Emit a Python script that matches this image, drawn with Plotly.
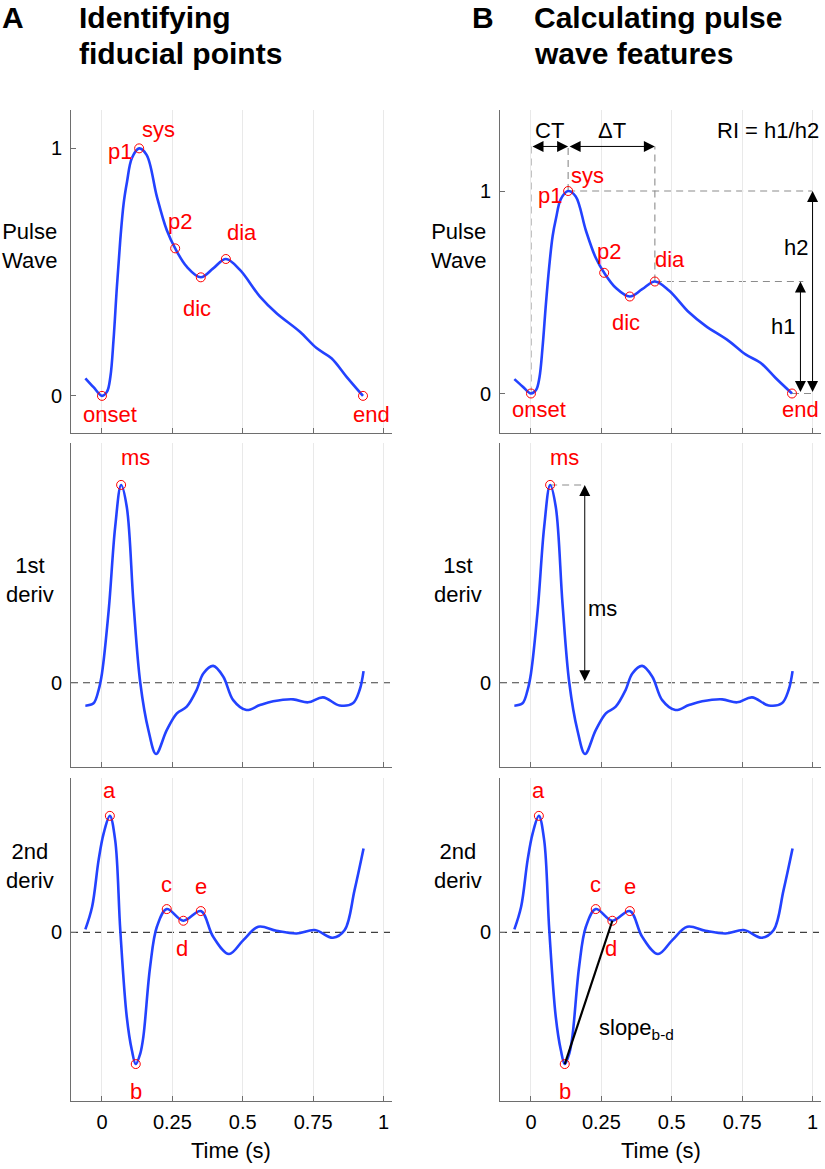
import plotly.graph_objects as go

# ---------------- data ----------------
# Pulse wave (normalised amplitude) vs time (s)
t_pw = [-0.059, -0.030, 0.000, 0.018, 0.030, 0.041, 0.053, 0.065, 0.077, 0.089, 0.106,
        0.132, 0.159, 0.195, 0.230, 0.260, 0.301, 0.351, 0.395, 0.440, 0.490, 0.561,
        0.620, 0.702, 0.762, 0.815, 0.868, 0.927]
v_pw = [0.071, 0.035, 0.000, 0.017, 0.078, 0.226, 0.441, 0.630, 0.778, 0.865, 0.960,
        1.000, 0.973, 0.805, 0.670, 0.596, 0.522, 0.479, 0.515, 0.553, 0.509, 0.401,
        0.334, 0.260, 0.193, 0.152, 0.078, 0.000]

# 1st derivative (normalised so that ms = 1)
t_d1 = [-0.059, -0.030, -0.012, 0.000, 0.024, 0.047, 0.068, 0.088, 0.112, 0.136, 0.165,
        0.192, 0.230, 0.266, 0.301, 0.336, 0.360, 0.395, 0.431, 0.466, 0.513, 0.561,
        0.608, 0.679, 0.732, 0.785, 0.844, 0.891, 0.915, 0.929]
v_d1 = [-0.116, -0.104, -0.037, 0.047, 0.368, 0.789, 1.000, 0.890, 0.400, 0.000, -0.240,
        -0.360, -0.240, -0.155, -0.121, -0.037, 0.047, 0.085, 0.030, -0.088, -0.138, -0.113,
        -0.094, -0.084, -0.099, -0.074, -0.115, -0.104, -0.037, 0.059]

# 2nd derivative (normalised so that a = 1)
t_d2 = [-0.059, -0.035, -0.012, 0.006, 0.028, 0.047, 0.065, 0.088, 0.106, 0.120, 0.136,
        0.147, 0.171, 0.195, 0.230, 0.289, 0.351, 0.395, 0.451, 0.502, 0.555, 0.620,
        0.691, 0.756, 0.820, 0.862, 0.897, 0.929]
v_d2 = [0.026, 0.220, 0.620, 0.850, 1.000, 0.790, 0.020, -0.724, -1.010, -1.130, -1.040,
        -0.895, -0.295, 0.048, 0.200, 0.100, 0.183, -0.038, -0.186, -0.066, 0.048, 0.014,
        -0.009, 0.020, -0.046, 0.020, 0.363, 0.720]

# fiducial point times
pw_fid_t = {"onset": 0.000, "sys": 0.132, "p2": 0.260, "dic": 0.351, "dia": 0.440, "end": 0.927}
d1_fid_t = {"ms": 0.068}
d2_fid_t = {"a": 0.028, "b": 0.120, "c": 0.230, "d": 0.289, "e": 0.351}

x_ticks = [0, 0.25, 0.5, 0.75, 1]
x_tick_labels = ["0", "0.25", "0.5", "0.75", "1"]

# ---------------- styling ----------------
W, H = 825, 1169
FONT = "Liberation Sans, Arial, Helvetica, sans-serif"
BLUE = "#2342ff"
RED = "#ff0000"
AXC = "#6e6e6e"
GRID = "#e9e9e9"

def px_x(p):
    return p / W

def px_y(p):
    return 1 - p / H

XA = [px_x(71), px_x(392)]
XB = [px_x(500), px_x(821)]
Y_ROWS = [[px_y(433), px_y(110)], [px_y(767), px_y(443)], [px_y(1101), px_y(778)]]
X_RANGE = [-0.11, 1.03]
Y_RANGES_A = [[-0.15, 1.155], [-0.426, 1.212], [-1.447, 1.325]]
Y_RANGES_B = [[-0.195, 1.40], [-0.426, 1.212], [-1.447, 1.325]]

series = [(t_pw, v_pw), (t_d1, v_d1), (t_d2, v_d2)]
fids = [pw_fid_t, d1_fid_t, d2_fid_t]

# label text and pixel offsets (dx, dy) per panel
labels_top_A = [("onset", "onset", 8, -19), ("sys", "sys", 19, 19), ("sys", "p1", -19, -3),
                ("p2", "p2", 5, 27), ("dic", "dic", -4, -31), ("dia", "dia", 16, 27),
                ("end", "end", 8, -19)]
labels_top_B = [("onset", "onset", 8, -16), ("sys", "sys", 19, 16), ("sys", "p1", -18, -4),
                ("p2", "p2", 5, 21), ("dic", "dic", -4, -26), ("dia", "dia", 15, 22),
                ("end", "end", 8, -16)]
labels_mid = [("ms", "ms", 14, 27)]
labels_bot = [("a", "a", 0, 25), ("b", "b", 0, -27), ("c", "c", 0, 25),
              ("d", "d", -1, -28), ("e", "e", 0, 25)]

fig = go.Figure()
annotations = []
shapes = []

def lookup(ts, vs, t):
    return dict(zip(ts, vs))[t]

for col in range(2):
    for row in range(3):
        n = col * 3 + row + 1
        xs, ys = series[row]
        fig.add_trace(go.Scatter(x=xs, y=ys, mode="lines",
                                 line=dict(color=BLUE, width=2.6, shape="spline", smoothing=1.0),
                                 xaxis=f"x{n}", yaxis=f"y{n}", showlegend=False, hoverinfo="skip"))
        ft = list(fids[row].values())
        fv = [lookup(xs, ys, t) for t in ft]
        fig.add_trace(go.Scatter(x=ft, y=fv, mode="markers",
                                 marker=dict(symbol="circle-open", size=9, color=RED,
                                             line=dict(width=1, color=RED)),
                                 xaxis=f"x{n}", yaxis=f"y{n}", showlegend=False, hoverinfo="skip"))
        if row == 0:
            labs = labels_top_A if col == 0 else labels_top_B
        elif row == 1:
            labs = labels_mid
        else:
            labs = labels_bot
        for key, txt, dx, dy in labs:
            t = fids[row][key]
            annotations.append(dict(xref=f"x{n}", yref=f"y{n}", x=t, y=lookup(xs, ys, t),
                                    text=txt, showarrow=False, xshift=dx, yshift=dy,
                                    font=dict(family=FONT, size=22, color=RED)))
        if row > 0:
            shapes.append(dict(type="line", xref=f"x{n} domain", yref=f"y{n}", x0=0, x1=1,
                               y0=0, y1=0, line=dict(color="#404040", width=1.2, dash="7px,5px"),
                               layer="below"))

        xd = XA if col == 0 else XB
        yr = (Y_RANGES_A if col == 0 else Y_RANGES_B)[row]
        fig.update_layout(**{
            f"xaxis{n}": dict(domain=xd, anchor=f"y{n}", range=X_RANGE, tickvals=x_ticks,
                              ticktext=x_tick_labels, showticklabels=(row == 2),
                              showgrid=True, gridcolor=GRID, gridwidth=1, showline=True,
                              linecolor=AXC, linewidth=1, ticks="inside", ticklen=5,
                              tickcolor=AXC, zeroline=False, ticklabelstandoff=3,
                              tickfont=dict(family=FONT, size=20, color="#000")),
            f"yaxis{n}": dict(domain=Y_ROWS[row], anchor=f"x{n}", range=yr,
                              tickvals=[0, 1] if row == 0 else [0],
                              ticktext=["0", "1"] if row == 0 else ["0"],
                              showgrid=False, showline=True, linecolor=AXC, linewidth=1,
                              ticks="inside", ticklen=5, tickcolor=AXC, zeroline=False,
                              ticklabelstandoff=4,
                              tickfont=dict(family=FONT, size=20, color="#000")),
        })

# ---------------- panel B measurement annotations ----------------
DASH = dict(color="#8c8c8c", width=1.1, dash="7px,5px")
ARROW_LEVEL = 1.22
t_on, t_sys, t_dia, t_end = pw_fid_t["onset"], pw_fid_t["sys"], pw_fid_t["dia"], pw_fid_t["end"]
v_sys = lookup(t_pw, v_pw, t_sys)
v_dia = lookup(t_pw, v_pw, t_dia)
v_on = lookup(t_pw, v_pw, t_on)
H1_X, H2_X = 0.957, 1.0

for t0, v0 in [(t_on, v_on), (t_sys, v_sys), (t_dia, v_dia)]:
    shapes.append(dict(type="line", xref="x4", yref="y4", x0=t0, x1=t0, y0=v0, y1=ARROW_LEVEL,
                       line=DASH, layer="below"))
shapes.append(dict(type="line", xref="x4", yref="y4", x0=t_sys, x1=H2_X, y0=v_sys, y1=v_sys,
                   line=DASH, layer="below"))
shapes.append(dict(type="line", xref="x4", yref="y4", x0=t_dia, x1=H1_X + 0.01, y0=v_dia, y1=v_dia,
                   line=DASH, layer="below"))
shapes.append(dict(type="line", xref="x4", yref="y4", x0=t_end, x1=H2_X, y0=0, y1=0,
                   line=DASH, layer="below"))

def darrow(xref, yref, x0, y0, x1, y1):
    return dict(xref=xref, yref=yref, axref=xref, ayref=yref, x=x1, y=y1, ax=x0, ay=y0,
                text="", showarrow=True, arrowside="end+start", arrowhead=2, startarrowhead=2,
                arrowsize=2.2, startarrowsize=2.2, arrowwidth=1, arrowcolor="#000",
                standoff=0, startstandoff=0)

annotations.append(darrow("x4", "y4", t_on, ARROW_LEVEL, t_sys, ARROW_LEVEL))
annotations.append(darrow("x4", "y4", t_sys, ARROW_LEVEL, t_dia, ARROW_LEVEL))
annotations.append(darrow("x4", "y4", H1_X, 0, H1_X, v_dia))
annotations.append(darrow("x4", "y4", H2_X, 0, H2_X, v_sys))

BLK = dict(family=FONT, size=22, color="#000")
annotations.append(dict(xref="x4", yref="y4", x=(t_on + t_sys) / 2, y=1.30, text="CT",
                        showarrow=False, font=BLK))
annotations.append(dict(xref="x4", yref="y4", x=(t_sys + t_dia) / 2, y=1.30, text="\u0394T",
                        showarrow=False, font=BLK))
annotations.append(dict(xref="x4", yref="y4", x=1.03, y=1.30, text="RI = h1/h2",
                        showarrow=False, xanchor="right", font=BLK))
annotations.append(dict(xref="x4", yref="y4", x=H2_X, y=0.72, text="h2", showarrow=False,
                        xanchor="right", xshift=-3, font=BLK))
annotations.append(dict(xref="x4", yref="y4", x=H1_X, y=0.33, text="h1", showarrow=False,
                        xanchor="right", xshift=-3, font=BLK))

# ms amplitude in 1st derivative
t_ms = d1_fid_t["ms"]
v_ms = lookup(t_d1, v_d1, t_ms)
MS_X = 0.191
shapes.append(dict(type="line", xref="x5", yref="y5", x0=t_ms, x1=MS_X, y0=v_ms, y1=v_ms,
                   line=DASH, layer="below"))
annotations.append(darrow("x5", "y5", MS_X, 0, MS_X, v_ms))
annotations.append(dict(xref="x5", yref="y5", x=MS_X, y=0.375, text="ms", showarrow=False,
                        xanchor="left", xshift=1, font=BLK))

# slope b-d in 2nd derivative
t_b, t_d = d2_fid_t["b"], d2_fid_t["d"]
fig.add_trace(go.Scatter(x=[t_b, t_d], y=[lookup(t_d2, v_d2, t_b), lookup(t_d2, v_d2, t_d)],
                         mode="lines", line=dict(color="#000", width=2.2),
                         xaxis="x6", yaxis="y6", showlegend=False, hoverinfo="skip"))
annotations.append(dict(xref="x6", yref="y6", x=0.235, y=-0.83,
                        text="slope<sub>b-d</sub>", showarrow=False, xanchor="left",
                        font=BLK))

# ---------------- axis labels and titles ----------------
def paper_text(x, y, text, size=22, bold=False, xanchor="center", align="center"):
    return dict(xref="paper", yref="paper", x=px_x(x), y=px_y(y), text=text,
                showarrow=False, xanchor=xanchor, yanchor="middle", align=align,
                font=dict(family=FONT, size=size, color="#000",
                          weight="bold" if bold else "normal"))

for cx in (29.5, 458):
    annotations.append(paper_text(cx, 245.5, "Pulse<br>Wave"))
    annotations.append(paper_text(cx, 579.5, "1st<br>deriv"))
    annotations.append(paper_text(cx, 866, "2nd<br>deriv"))

annotations.append(paper_text(231.5, 1150, "Time (s)"))
annotations.append(paper_text(660.5, 1150, "Time (s)"))

annotations.append(paper_text(0, 18, "A", size=30, bold=True, xanchor="left"))
annotations.append(paper_text(77, 18, "Identifying", size=30, bold=True, xanchor="left"))
annotations.append(paper_text(77, 53, "fiducial points", size=30, bold=True, xanchor="left"))
annotations.append(paper_text(470, 18, "B", size=30, bold=True, xanchor="left"))
annotations.append(paper_text(532, 18, "Calculating pulse", size=30, bold=True, xanchor="left"))
annotations.append(paper_text(532, 53, "wave features", size=30, bold=True, xanchor="left"))

fig.update_layout(width=W, height=H, margin=dict(l=0, r=0, t=0, b=0),
                  paper_bgcolor="white", plot_bgcolor="white",
                  font=dict(family=FONT, color="#000"),
                  annotations=annotations, shapes=shapes, showlegend=False)

fig.write_html("out.html", config={"displayModeBar": False, "staticPlot": True},
               post_script="document.body.style.margin='0';document.body.style.padding='0';"
                           "document.body.style.overflow='hidden';")
